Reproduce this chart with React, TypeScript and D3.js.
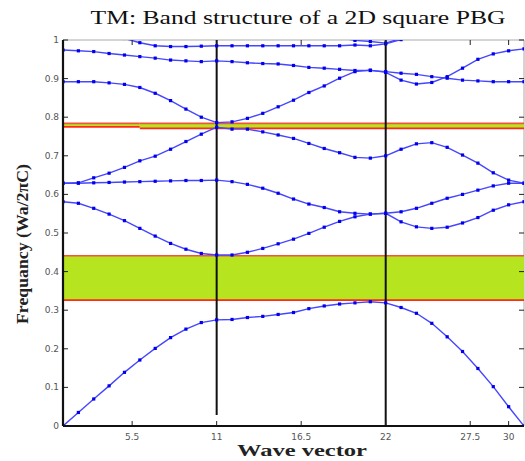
import React from "react";
import * as d3 from "d3";

// wave vector index 1..31, frequency in normalized units (wa/2πc)
const kStart = 1;
const band1 = [0, 0.035, 0.07, 0.104, 0.139, 0.171, 0.201, 0.229, 0.251, 0.268, 0.275, 0.276, 0.281, 0.284, 0.289, 0.294, 0.304, 0.311, 0.316, 0.319, 0.322, 0.319, 0.307, 0.292, 0.266, 0.231, 0.193, 0.149, 0.102, 0.05, 0];
const band2 = [0.581, 0.577, 0.564, 0.549, 0.532, 0.512, 0.492, 0.473, 0.458, 0.447, 0.443, 0.443, 0.45, 0.46, 0.472, 0.484, 0.499, 0.515, 0.53, 0.542, 0.549, 0.551, 0.529, 0.516, 0.512, 0.515, 0.526, 0.54, 0.559, 0.573, 0.581];
const band3 = [0.629, 0.629, 0.63, 0.631, 0.632, 0.633, 0.634, 0.635, 0.636, 0.636, 0.637, 0.633, 0.626, 0.616, 0.603, 0.588, 0.575, 0.566, 0.555, 0.551, 0.549, 0.551, 0.555, 0.564, 0.577, 0.59, 0.6, 0.611, 0.622, 0.629, 0.629];
const band4 = [0.629, 0.63, 0.643, 0.655, 0.67, 0.687, 0.699, 0.717, 0.737, 0.756, 0.774, 0.769, 0.769, 0.762, 0.754, 0.745, 0.732, 0.719, 0.708, 0.696, 0.694, 0.7, 0.717, 0.731, 0.734, 0.722, 0.702, 0.681, 0.656, 0.637, 0.629];
const band5 = [0.892, 0.892, 0.892, 0.889, 0.885, 0.877, 0.862, 0.843, 0.821, 0.8, 0.786, 0.788, 0.797, 0.81, 0.827, 0.844, 0.864, 0.881, 0.901, 0.918, 0.922, 0.916, 0.896, 0.886, 0.89, 0.905, 0.927, 0.95, 0.964, 0.972, 0.977];
const band6 = [0.974, 0.972, 0.97, 0.965, 0.961, 0.957, 0.953, 0.948, 0.946, 0.944, 0.946, 0.944, 0.941, 0.939, 0.938, 0.934, 0.929, 0.927, 0.924, 0.921, 0.921, 0.918, 0.914, 0.911, 0.905, 0.901, 0.896, 0.894, 0.892, 0.892, 0.892];
const band7Start = 5;
const band7 = [1.004, 0.993, 0.985, 0.983, 0.983, 0.984, 0.985, 0.985, 0.985, 0.985, 0.985, 0.985, 0.985, 0.985, 0.985, 0.987, 0.985, 0.99, 1.001];
const band8Start = 19;
const band8 = [1.006, 0.999, 0.996, 0.992, 1.004];

// photonic band gaps [k from, k to, f low, f high]
const gaps = [
  [1, 31, 0.326, 0.441],
  [1, 6, 0.775, 0.784],
  [6, 31, 0.771, 0.784],
];
const symmetryPoints = [11, 22];
const xTicks = [5.5, 11, 16.5, 22, 27.5, 30];
const yTicks = [0, 0.1, 0.2, 0.3, 0.4, 0.5, 0.6, 0.7, 0.8, 0.9, 1];

const W = 525, H = 461;
const m = { left: 63, right: 1, top: 40, bottom: 35 };

export default function App() {
  const x = d3.scaleLinear().domain([1, 31]).range([m.left, W - m.right]);
  const y = d3.scaleLinear().domain([0, 1]).range([H - m.bottom, m.top]);

  const series = [
    { start: kStart, v: band1 },
    { start: kStart, v: band2 },
    { start: kStart, v: band3 },
    { start: kStart, v: band4 },
    { start: kStart, v: band5 },
    { start: kStart, v: band6 },
    { start: band7Start, v: band7 },
    { start: band8Start, v: band8 },
  ].map((s) => s.v.map((f, i) => [s.start + i, f] as [number, number]));

  const line = d3
    .line<[number, number]>()
    .x((d) => x(d[0]))
    .y((d) => y(d[1]));

  const x0 = x(1), x1 = x(31), y0 = y(0), y1 = y(1);
  const tickFont = { fontFamily: "DejaVu Sans, sans-serif", fontSize: 9, fill: "#555" };

  return (
    <svg width={W} height={H} style={{ position: "absolute", left: 0, top: 0, background: "#fff" }}>
      <defs>
        <clipPath id="plot">
          <rect x={x0} y={y1} width={x1 - x0} height={y0 - y1} />
        </clipPath>
      </defs>

      <text
        x={298}
        y={24}
        textAnchor="middle"
        fontFamily="Liberation Serif, serif"
        fontSize={18}
        fill="#111"
        textLength={415}
        lengthAdjust="spacingAndGlyphs"
      >
        TM: Band structure of a 2D square PBG
      </text>

      {/* frame: light top/right, thick left/bottom */}
      <line x1={x0} x2={x1} y1={y1} y2={y1} stroke="#aaa" strokeWidth={1} />
      <line x1={x1} x2={x1} y1={y1} y2={y0} stroke="#aaa" strokeWidth={1} />

      {gaps.map((g, i) => (
        <g key={i}>
          <rect x={x(g[0])} y={y(g[3])} width={x(g[1]) - x(g[0])} height={y(g[2]) - y(g[3])} fill="#b6e41e" />
          <line x1={x(g[0])} x2={x(g[1])} y1={y(g[3])} y2={y(g[3])} stroke="#f2553a" strokeWidth={1.6} />
          <line x1={x(g[0])} x2={x(g[1])} y1={y(g[2])} y2={y(g[2])} stroke="#ff2a1a" strokeWidth={1.6} />
        </g>
      ))}

      {symmetryPoints.map((k, i) => (
        <line key={k} x1={x(k)} x2={x(k)} y1={y1} y2={i === 0 ? y0 - 11 : y0} stroke="#111" strokeWidth={2} />
      ))}

      <g clipPath="url(#plot)">
        {series.map((s, i) => (
          <g key={i}>
            <path d={line(s) || ""} fill="none" stroke="#4646ff" strokeWidth={1.4} />
            {s.map((d, j) => (
              <rect key={j} x={x(d[0]) - 1.6} y={y(d[1]) - 1.6} width={3.2} height={3.2} fill="#0000ee" />
            ))}
          </g>
        ))}
      </g>

      {/* inward ticks on all sides */}
      {yTicks.map((t) => (
        <g key={t}>
          <line x1={x0} x2={x0 + 5} y1={y(t)} y2={y(t)} stroke="#222" />
          <line x1={x1} x2={x1 - 5} y1={y(t)} y2={y(t)} stroke="#222" />
          <text x={x0 - 4} y={y(t) + 3} textAnchor="end" {...tickFont}>
            {t === 0 || t === 1 ? d3.format("d")(t) : d3.format(".1f")(t)}
          </text>
        </g>
      ))}
      {xTicks.map((t) => (
        <g key={t}>
          <line x1={x(t)} x2={x(t)} y1={y0} y2={y0 - 5} stroke="#222" />
          <line x1={x(t)} x2={x(t)} y1={y1} y2={y1 + 5} stroke="#222" />
          <text x={x(t)} y={y0 + 14} textAnchor="middle" {...tickFont}>
            {t}
          </text>
        </g>
      ))}

      <line x1={x0} x2={x0} y1={y1} y2={y0} stroke="#111" strokeWidth={2.2} />
      <line x1={x0} x2={x1} y1={y0} y2={y0} stroke="#111" strokeWidth={2.2} />

      <text
        transform={`translate(28,244) rotate(-90)`}
        textAnchor="middle"
        fontFamily="Liberation Serif, serif"
        fontWeight="bold"
        fontSize={17}
        fill="#222"
        textLength={160}
        lengthAdjust="spacingAndGlyphs"
      >
        Frequancy (Wa/2πC)
      </text>
      <text
        x={302}
        y={456}
        textAnchor="middle"
        fontFamily="Liberation Serif, serif"
        fontWeight="bold"
        fontSize={17}
        fill="#222"
        textLength={130}
        lengthAdjust="spacingAndGlyphs"
      >
        Wave vector
      </text>
    </svg>
  );
}
